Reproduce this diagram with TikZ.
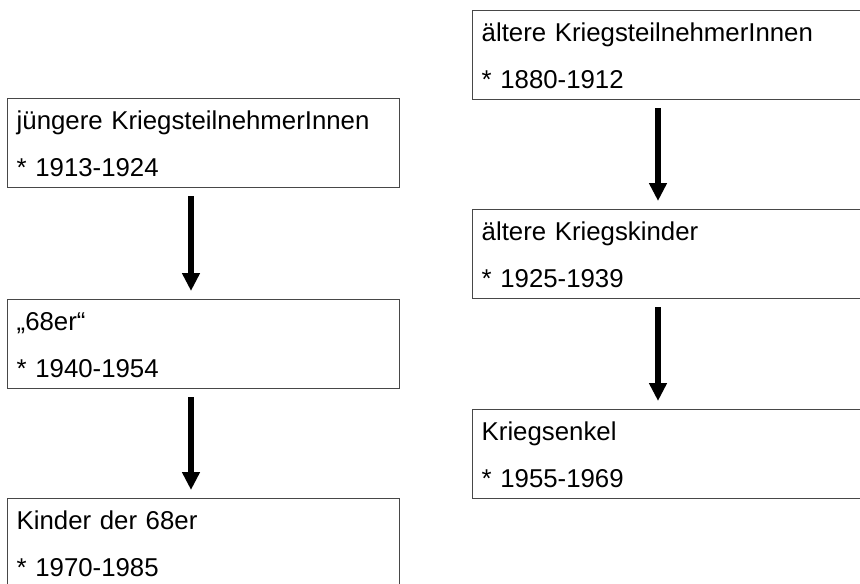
\documentclass[tikz,border=0pt]{standalone}
\usepackage{fontspec}
\setmainfont{Liberation Sans}
\usetikzlibrary{arrows.meta}
\begin{document}
\begin{tikzpicture}[x=1pt,y=-1pt,
  genbox/.style={draw=black!72, line width=1.4pt, anchor=north west,
    inner xsep=9pt, inner ysep=0pt, text width=#1, align=left,
    text height=31pt, text depth=58pt, font=\fontsize{25.8}{47}\selectfont},
  flow/.style={line width=6pt, -{Triangle[width=17pt,length=18pt]},
    shorten <=8pt, shorten >=8pt}]
\useasboundingbox (0,0) rectangle (860,584);
\clip (0,0) rectangle (860,584);
\fill[white] (0,0) rectangle (860,584);

% left column
\node[genbox=374pt] (b1) at (7,98) {jüngere KriegsteilnehmerInnen\\{}* 1913-1924};
\node[genbox=374pt] (b2) at (7,299) {„68er“\\{}* 1940-1954};
\node[genbox=374pt] (b3) at (7,498) {Kinder der 68er\\{}* 1970-1985};

% right column
\node[genbox=382pt] (r1) at (472,10) {ältere KriegsteilnehmerInnen\\{}* 1880-1912};
\node[genbox=382pt] (r2) at (472,209) {ältere Kriegskinder\\{}* 1925-1939};
\node[genbox=382pt] (r3) at (472,409) {Kriegsenkel\\{}* 1955-1969};

% arrows
\draw[flow] ([xshift=184pt]b1.south west) -- ([xshift=184pt]b2.north west);
\draw[flow] ([xshift=184pt]b2.south west) -- ([xshift=184pt]b3.north west);
\draw[flow] ([xshift=186pt]r1.south west) -- ([xshift=186pt]r2.north west);
\draw[flow] ([xshift=186pt]r2.south west) -- ([xshift=186pt]r3.north west);
\end{tikzpicture}
\end{document}
